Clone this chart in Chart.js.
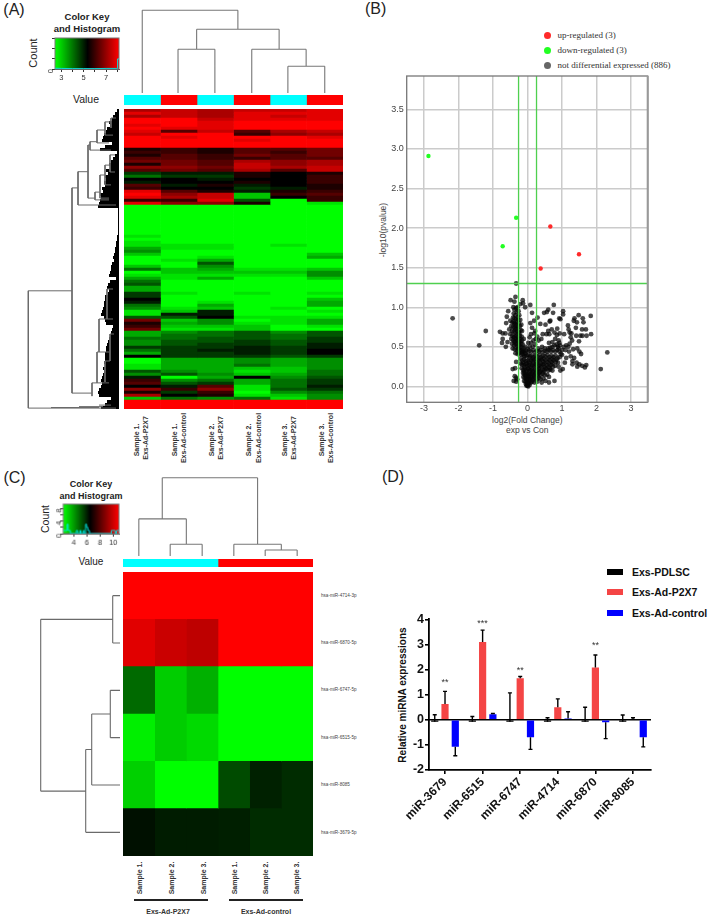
<!DOCTYPE html>
<html><head><meta charset="utf-8">
<script src="https://cdn.jsdelivr.net/npm/chart.js@4/dist/chart.umd.min.js"></script>
<style>
html,body{margin:0;padding:0;background:#fff;}
#page{position:relative;width:709px;height:914px;overflow:hidden;background:#fff;filter:blur(.35px);font-family:"Liberation Sans",Arial,sans-serif;}
#page canvas{position:absolute;display:block;}
#page .t{position:absolute;white-space:nowrap;line-height:1;}
</style></head><body><div id="page"></div>
<script>
/* ---------- Panel A: heat map levels (-9 full green .. 9 full red), one array per sample ---------- */
const heatA_s1=[6,8,6,9,9,8,9,8,7,9, 9,9,9,1,2,1,3,4,1,5, 3,-2,-4,0,-1,3,2,8,9,8, 2,8,-9,-9,-9,-9,-9,-9,-9,-9,
 -9,-9,-8,-9,-8,-8,-6,-5,-7,-9, -9,-9,-7,-4,-9,-8,-6,-4,-3,-6, -6,-2,-2,0,-1,-4,-5,-8,-8,-3,
 4,1,2,4,-6,-6,-4,-5,-5,-2, -4,-6,0,-9,-9,-8,-8,-3,-5,-1, 2,3,0,5,1,6,-7,9,9,9];
const heatA_s2=[7,7,7,9,9,9,8,3,9,8, 9,9,9,2,2,3,3,4,4,5, 4,-1,-2,0,0,-1,0,3,5,6, 2,5,-9,-9,-9,-9,-9,-9,-9,-9,
 -9,-9,-9,-9,-9,-8,-8,-9,-9,-9, -8,-9,-9,-7,-7,-8,-8,-9,-9,-9, -9,-8,-9,-9,-9,-9,-8,-7,-1,-3,
 -7,-6,-7,-8,-5,-4,-4,-3,-3,-2, -2,-2,-2,-6,-6,-6,-6,-5,-3,-9, -5,-3,-1,2,-2,0,-4,9,9,9];
const heatA_s3=[6,6,6,7,8,8,8,7,9,9, 9,9,9,1,1,2,2,3,3,4, 3,-1,-2,-1,0,1,0,1,7,7, 8,5,-9,-9,-9,-9,-9,-9,-9,-9,
 -9,-9,-9,-9,-9,-8,-8,-9,-9,-8, -6,-3,-5,-6,-7,-8,-6,-9,-9,-9, -9,-9,-9,-9,-8,-6,-7,-1,-1,0,
 -5,-5,-7,-8,-4,-4,-3,-3,-2,-2, -1,-2,-2,-6,-6,-6,-6,-6,-5,-6, -4,-2,3,5,2,1,-5,9,9,9];
const heatA_s4=[7,8,8,8,9,9,9,3,2,9, 8,9,9,3,3,4,2,6,7,7, 6,1,1,0,1,-1,-2,-1,-7,-7, -3,1,-9,-9,-9,-9,-9,-9,-9,-9,
 -9,-9,-9,-9,-9,-9,-9,-9,-9,-9, -9,-9,-9,-8,-7,-8,-9,-9,-9,-9, -9,-8,-9,-9,-9,-9,-9,-9,-9,-8,
 -9,-8,-7,-7,-3,-3,-3,-2,-2,-1, -1,-1,-2,-5,-5,-4,-7,-8,-7,0, -6,-6,-8,-8,-9,-8,-4,9,9,9];
const heatA_s5=[7,8,7,8,9,9,9,6,5,9, 9,9,9,3,2,3,3,5,5,6, 3,0,0,0,0,0,-1,1,2,0, -9,-9,-9,-9,-9,-9,-9,-9,-9,-9,
 -9,-9,-9,-9,-9,-8,-9,-9,-9,-9, -9,-9,-9,-8,-7,-8,-9,-9,-9,-9, -9,-9,-9,-9,-9,-9,-8,-9,-9,-8,
 -8,-8,-9,-9,-5,-4,-4,-3,-3,-2, -2,-2,-3,-6,-6,-6,-7,-7,-6,-5, -4,-4,-4,-3,-5,-7,-8,9,9,9];
const heatA_s6=[8,8,8,8,9,9,9,7,6,8, 9,9,9,4,4,4,3,6,6,7, 7,1,2,2,2,1,1,2,3,2, 2,-8,-9,-9,-9,-9,-9,-9,-9,-9,
 -9,-9,-9,-9,-9,-9,-9,-9,-7,-6, -9,-9,-9,-7,-5,-5,-7,-9,-9,-9, -9,-8,-9,-7,-6,-6,-9,-8,-9,-8,
 -6,-6,-8,-9,-3,-3,-2,-2,-1,-1, 0,0,-2,-5,-5,-5,-5,-4,-4,-3, -2,-2,-1,-2,-4,-5,-5,9,9,9];
const sampleColorsA=['#00ffff','#ff0000','#00ffff','#ff0000','#00ffff','#ff0000'];
const sampleNamesA=['Exs-Ad-P2X7','Exs-Ad-control','Exs-Ad-P2X7','Exs-Ad-control','Exs-Ad-P2X7','Exs-Ad-control'];
const sampleNumsA=['Sample 1.','Sample 1.','Sample 2.','Sample 2.','Sample 3.','Sample 3.'];
/* leaf lengths of the row dendrogram, per heat-map row */
const leafA=[2,4,6,7,10,9,12,13,15,16, 17,7,14,19,2,4,6,8,10,9, 13,11,14,13,15,14,17,16,19,18, 19,20,21,1,1,1,1,1,1,1,
 1,1,2,2,3,3,4,4,5,6, 5,7,8,8,9,10,3,9,11,12, 10,11,14,14,15,15,16,17,18,15,
 14,13,6,7,8,9,10,11,12,13, 13,14,14,14,15,14,16,15,16,17, 18,17,18,20,21,20,8,12,14,18];
/* row dendrogram branches: [height1,row1,height2,row2] */
const branchesA=[[90.7,60.6,90.7,99.7],[90.7,60.6,47,60.6],[90.7,99.7,3,99.7],[47,26.3,47,94.7],[47,26.3,41,26.3],[47,94.7,27,94.7],
 [41,20.9,41,32],[41,20.9,31,20.9],[41,32,3,32],[31,12,31,29.7],[31,12,29,12],[29,10.9,29,13.7],[29,10.9,22,10.9],[29,13.7,8,13.7],
 [22,7,22,11.3],[22,7,14,7],[22,11.3,10,11.3],[14,4.3,14,8.7],[14,4.3,8,4.3],[14,8.7,6,8.7],[8,3,8,6.3],[8,3,3,3],
 [31,29.7,24,29.7],[24,27.7,24,30.3],[24,27.7,19,27.7],[24,30.3,10,30.3],[19,22,19,29.7],[19,22,14,22],[19,29.7,10,29.7],
 [14,18.7,14,25.3],[14,18.7,9,18.7],[14,25.3,8,25.3],[9,15.3,9,21],[9,15.3,4,15.3],[9,21,4,21],
 [27,91.3,27,95.7],[27,91.3,22,91.3],[22,81,22,91.3],[22,81,20,81],[20,70,20,81],[20,70,12,70],[12,60,12,70],[12,60,6,60],[12,70,6,70],
 [22,91.3,10,91.3],[14,84,14,91],[14,84,9,84],[20,81,10,81],[9,75,9,84],[9,75,5,75],[68,99.5,20,99.5],[20,98.7,8,98.7],[40,99.2,16,99.2]];
/* column dendrogram: [column1,height1,column2,height2] */
const colBranchesA=[[0.5,0,0.5,82.7],[0.5,82.7,3.12,82.7],[3.12,82.7,3.12,63.7],[1.99,63.7,4.25,63.7],[1.99,63.7,1.99,43.7],[4.25,63.7,4.25,43.7],
 [1.48,43.7,2.49,43.7],[1.48,43.7,1.48,0],[2.49,43.7,2.49,0],[3.5,43.7,4.99,43.7],[3.5,43.7,3.5,0],[4.99,43.7,4.99,26.7],[4.49,26.7,5.5,26.7],[4.49,26.7,4.49,0],[5.5,26.7,5.5,0]];
const keyA_hist=[[2.45,40],[3,30],[4,20],[5,20],[6,20],[7,30],[7.9,30],[8.02,30],[8.02,520],[8.15,520]];

/* ---------- Panel B: volcano ---------- */
const upPoints=[[0.66,2.02],[0.38,1.49],[1.49,1.67]];
const downPoints=[[-2.87,2.91],[-0.33,2.13],[-0.72,1.77]];
const foldThresholds=[-0.26,0.26];
const pThreshold=1.3;
const grayPoints=[[-2.17,.86],[-1.21,.70],[-1.40,.52],[-.33,1.30],[2.31,.43],[2.12,.22],[1.83,.89],[1.84,.66],[1.71,.64],[1.69,.72],[1.58,.72],[1.48,.90],[1.6,.86],[1.36,.86],[1.34,.83],[1.43,.81],[1.62,.81],[1.40,.74],[1.17,.77],[1.19,.72],[1.22,.68],[1.27,.67],[1.25,.62],[1.29,.58],[1.41,.64],[1.53,.64],[1.59,.64],[1.49,.57],[1.06,.66],[.93,.67],[.86,.73],[1.03,.95],[1.03,.91],[.92,.86],[.95,.85],[.64,.82],[.66,.83],[.76,1.03],[.6,.97],[.56,.94],[.48,.93],[.74,.93],[.29,.87],[.19,.83],[.37,.79],[.08,.8],[.08,1.03],[.13,.93],[-.14,1.09],[-.13,1.05],[-.21,1.04],[-.07,1],[-.35,1.13],[-.49,1.09],[-.38,1.07],
[-.41,1],[-.56,.95],[-.38,.97],[-.33,.99],[-.29,1],[-.4,.92],[-.35,.9],[-.31,.94],[-.26,.95],[-.6,.88],[-.42,.87],[-.38,.86],[-.33,.85],[-.28,.88],[-.24,.9],[-.5,.83],[-.44,.81],[-.39,.8],[-.34,.79],[-.3,.82],[-.25,.8],[-.21,.84],[-.62,.8],[-.47,.76],[-.42,.75],[-.37,.74],[-.32,.73],[-.27,.75],[-.22,.76],[-.18,.78],[-.53,.72],[-.45,.7],[-.4,.69],[-.35,.68],[-.3,.7],[-.25,.69],[-.2,.71],[-.16,.7],[-.8,.69],[-.72,.67],[-.64,.67],[-.5,.66],[-.44,.64],[-.38,.63],[-.33,.64],[-.28,.62],[-.22,.64],[-.17,.63],[-.72,.6],[-.47,.6],[-.41,.58],[-.36,.57],[-.31,.58],[-.26,.56],[-.21,.57],[-.16,.58],[-.11,.6],[-.74,.55],[-.58,.56],[-.45,.54],[-.39,.52],[-.34,.53],[-.29,.51],[-.24,.52],[-.19,.5],[-.14,.53],[-.63,.5],[-.43,.48],[-.37,.47],[-.31,.46],[-.26,.47],[-.21,.45],[-.16,.46],[-.11,.48],[-.07,.5],[-.35,.42],[-.29,.41],[-.24,.42],[-.19,.4],[-.14,.41],[-.09,.43],[-.04,.45],[.01,.47],
[-.36,.78],[-.31,.77],[-.27,.84],[-.41,.82],[-.35,.72],[-.29,.66],[-.24,.67],[-.4,.62],[-.34,.6],[-.27,.6],[-.22,.6],[-.38,.56],[-.32,.54],[-.25,.55],[-.18,.54],[-.28,.48],[-.22,.49],[-.16,.43],[-.1,.38],[-.12,.45],[-.06,.42],
[.22,.7],[.13,.74],[.2,.67],[.1,.66],[.28,.63],[.06,.62],[.24,.6],[.17,.58],[.32,.58],[.1,.55],[.22,.53],[.02,.55],[.15,.5],[.3,.48],[.06,.5],[.42,.5],[.5,.48],[.55,.66],[.6,.7],[.63,.66],[.7,.72],[.78,.68],[.8,.6],[.72,.56],[.85,.65],[.9,.58],[.92,.55],[.94,.52],[.88,.5],[.62,.55],[.44,.66],[.52,.78],[.4,.6],
[1.05,.5],[1.12,.52],[1.18,.5],[1.22,.54],[1.0,.46],[1.1,.46],[1.2,.44],[1.32,.47],[1.44,.48],[1.5,.44],[1.55,.41],[1.0,.4],[1.12,.36],[1.25,.38],[1.3,.32],[1.35,.36],[1.42,.3],[1.5,.28],[1.58,.26],[1.66,.24],[1.7,.27],[1.44,.25],[1.3,.28],[1.02,.22],[1.08,.3],[.95,.2],
[.05,.45],[.1,.44],[.16,.46],[.21,.43],[.27,.45],[.33,.44],[.38,.46],[.44,.43],[.5,.45],[.56,.44],[.62,.46],[.68,.44],[.74,.46],[.8,.44],[.86,.46],[.92,.44],[.96,.41],[.72,.5],[.78,.52],[.84,.53],[.9,.48],[.66,.49],[.6,.48],
[-.08,.38],[-.03,.39],[.02,.4],[.07,.38],[.12,.39],[.17,.37],[.23,.39],[.28,.38],[.34,.4],[.39,.37],[.45,.39],[.51,.38],[.57,.4],[.63,.37],[.69,.39],[.75,.37],[.81,.39],[.87,.36],[.93,.37],[.05,.36],[.15,.35],[.26,.35],[.37,.35],[.48,.35],[.6,.35],[.72,.35],[.84,.34],
[-.33,.31],[-.2,.35],[-.15,.33],[-.1,.34],[-.05,.32],[0,.33],[.05,.31],[.1,.33],[.15,.32],[.2,.34],[.25,.31],[.3,.33],[.35,.32],[.41,.34],[.46,.31],[.52,.33],[.58,.31],[.64,.33],[.7,.31],[.76,.33],[.82,.31],[.88,.3],[-.13,.3],[-.03,.29],[.07,.29],[.17,.29],[.27,.29],[.38,.29],[.49,.29],[.61,.29],[.72,.29],
[-.2,.29],[-.16,.28],[-.11,.27],[-.06,.28],[-.01,.26],[.04,.27],[.09,.25],[.14,.27],[.19,.26],[.24,.28],[.29,.25],[.34,.27],[.39,.26],[.45,.28],[.5,.25],[.56,.27],[.62,.25],[.68,.27],[.74,.25],[.8,.26],[-.09,.24],[.01,.23],[.11,.23],[.21,.24],[.31,.23],[.41,.24],[.52,.23],[.64,.23],
[-.43,.22],[-.36,.23],[-.17,.23],[-.12,.21],[-.07,.22],[-.03,.2],[.02,.22],[.07,.2],[.12,.21],[.17,.19],[.22,.21],[.27,.2],[.32,.22],[.37,.19],[.43,.21],[.48,.2],[.54,.22],[.6,.2],[.66,.21],[.72,.2],[.9,.25],[-.1,.19],[.05,.18],[.15,.18],[.25,.18],[.35,.18],[.46,.18],
[-.13,.17],[-.09,.16],[-.05,.17],[-.01,.15],[.03,.16],[.08,.15],[.13,.16],[.18,.14],[.23,.16],[.28,.15],[.33,.17],[.38,.14],[.44,.16],[.5,.14],[.57,.15],[.62,.12],[-.07,.14],[.01,.13],[.1,.13],[.2,.13],[.3,.13],
[-.37,.13],[-.33,.11],[-.4,.07],[-.3,.09],[-.33,.06],[-.12,.12],[-.08,.11],[-.04,.12],[0,.1],[.04,.12],[.08,.1],[.12,.11],[.17,.09],[.22,.11],[.27,.09],[.33,.11],[.38,.09],[.46,.1],[.52,.07],[.62,.05],[.78,.07],
[-.1,.07],[-.06,.06],[-.02,.07],[.02,.05],[.06,.07],[.1,.05],[.14,.06],[.2,.05],[.28,.06],[.41,.05],[-.05,.03],[-.01,.02],[.03,.03],[0,.01],[.06,.02],[-.03,.01],[.02,.0],[.0,.05],[.05,.09],[-.03,.09],[.14,.08]];

/* ---------- Panel C ---------- */
const heatC_s1=[10.8,10.3,4.8,2.65,3.15,6.25];
const heatC_s2=[10.8,9.9,3.2,3.2,2.4,6.05];
const heatC_s3=[10.8,9.7,3.67,3.0,2.4,6.05];
const heatC_s4=[10.8,10.8,2.4,2.4,5.3,6.0];
const heatC_s5=[10.8,10.8,2.4,2.4,5.97,5.8];
const heatC_s6=[10.8,10.8,2.4,2.4,5.8,5.8];
const rowNamesC=['hsa-miR-4714-3p','hsa-miR-6870-5p','hsa-miR-6747-5p','hsa-miR-6515-5p','hsa-miR-8085','hsa-miR-3679-5p'];
const sampleColorsC=['#00ffff','#00ffff','#00ffff','#ff0000','#ff0000','#ff0000'];
const sampleNumsC=['Sample 1.','Sample 2.','Sample 3.','Sample 1.','Sample 2.','Sample 3.'];
const branchesC=[[79.3,1,79.3,4.63],[79.3,1,7.3,1],[7.3,.5,7.3,1.5],[7.3,.5,0,.5],[7.3,1.5,0,1.5],[79.3,4.63,34.3,4.63],[34.3,3.75,34.3,5.5],[34.3,5.5,0,5.5],[34.3,3.75,28.3,3.75],[28.3,3,28.3,4.5],[28.3,4.5,0,4.5],[28.3,3,9.7,3],[9.7,2.5,9.7,3.5],[9.7,2.5,0,2.5],[9.7,3.5,0,3.5]];
const colBranchesC=[[1.24,78,4.25,78],[1.24,78,1.24,37],[4.25,78,4.25,11.7],[.5,37,2,37],[.5,37,.5,0],[2,37,2,11.7],[1.49,11.7,2.5,11.7],[1.49,11.7,1.49,0],[2.5,11.7,2.5,0],[3.5,11.7,5,11.7],[3.5,11.7,3.5,0],[5,11.7,5,6],[4.49,6,5.5,6],[4.49,6,4.49,0],[5.5,6,5.5,0]];
const keyC_hist=[[2.45,1],[2.8,1],[3,3],[3.15,1],[3.5,0],[4.4,1],[4.6,0],[4.95,1],[5.1,0],[5.45,1],[5.6,0],[5.8,3],[5.95,2],[6.15,1],[6.4,0],[9.7,1],[10.1,1],[10.3,0],[10.5,1],[10.85,1]];

/* ---------- Panel D ---------- */
const miRNAs=['miR-3679','miR-6515','miR-6747','miR-4714','miR-6870','miR-8085'];
const pdlscMeans=[-0.08,-0.08,-0.08,-0.08,-0.08,-0.08];
const pdlscTops=[0.2,0.13,1.07,0.08,0.5,0.19];
const p2x7Means=[0.63,3.1,1.65,0.5,2.08,0.0];
const p2x7Tops=[1.13,3.57,1.72,0.83,2.58,0.08];
const controlMeans=[-1.07,0.22,-0.7,0.05,-0.1,-0.7];
const controlEnds=[-1.43,0.25,-1.18,0.32,-0.75,-1.08];
const starMarks=[[1,1.48,'**'],[2,3.85,'***'],[3,1.98,'**'],[5,2.94,'**']];

/* ---------- helpers ---------- */
const page=document.getElementById('page');
const FONT='"Liberation Sans",Arial,sans-serif';
Chart.defaults.font.family=FONT;
Chart.defaults.animation=false;
Chart.defaults.devicePixelRatio=1;
Chart.defaults.plugins.legend.display=false;
Chart.defaults.plugins.tooltip.enabled=false;
function fixH(h){return s=>{s.height=h;s.paddingLeft=s.paddingRight=s.paddingTop=s.paddingBottom=0;};}
function fixW(w){return s=>{s.width=w;s.paddingLeft=s.paddingRight=s.paddingTop=s.paddingBottom=0;};}
function mk(left,top,w,h){const c=document.createElement('canvas');c.width=w;c.height=h;c.style.left=left+'px';c.style.top=top+'px';c.style.width=w+'px';c.style.height=h+'px';page.appendChild(c);return c;}
function txt(s,x,y,o={}){const d=document.createElement('div');d.className='t';d.textContent=s;
 d.style.left=x+'px';d.style.top=y+'px';d.style.fontSize=(o.size||10)+'px';d.style.fontWeight=o.weight||'normal';d.style.color=o.color||'#222';
 if(o.font)d.style.fontFamily=o.font;
 const tx=o.align==='left'?'0':'-50%';
 d.style.transform=`translate(${tx},-50%)`+(o.rot?` rotate(${o.rot}deg)`:'');page.appendChild(d);}
const levelColor=z=>z>=0?`rgb(${Math.round(z/9*255)},0,0)`:`rgb(0,${Math.round(-z/9*255)},0)`;
function rampColor(lo,mid,hi){return v=>v>=mid?`rgb(${Math.round(Math.min(1,(v-mid)/(hi-mid))*255)},0,0)`:`rgb(0,${Math.round(Math.min(1,(mid-v)/(mid-lo))*255)},0)`;}
function heat(left,top,w,h,cols,color){
 new Chart(mk(left,top,w,h),{type:'bar',data:{labels:cols[0].map((_,i)=>i),
  datasets:cols.map(c=>({data:c.map(()=>1),backgroundColor:c.map(color),borderWidth:0,barPercentage:1,categoryPercentage:1}))},
  options:{responsive:false,indexAxis:'y',layout:{padding:0},scales:{x:{stacked:true,display:false,min:0,max:cols.length},y:{stacked:true,display:false,reverse:false}}}});
}
function segPoints(segs){const p=[];segs.forEach(s=>{p.push({x:s[0],y:s[1]},{x:s[2],y:s[3]},{x:null,y:null});});return p;}
function lineSet(segs,color,width){return {type:'scatter',showLine:true,data:segPoints(segs),borderColor:color,borderWidth:width,pointRadius:0,tension:0,spanGaps:false};}
function dendro(left,top,w,h,datasets,xs,ys){
 new Chart(mk(left,top,w,h),{type:'scatter',data:{datasets},options:{responsive:false,layout:{padding:0},
  scales:{x:Object.assign({type:'linear',display:false},xs),y:Object.assign({type:'linear',display:false},ys)}}});
}
function colorKey(o){
 const gradient={id:'grad',beforeDatasetsDraw(ch){const a=ch.chartArea,c=ch.ctx,xs=ch.scales.x;
   const g=c.createLinearGradient(a.left,0,a.right,0);const f=v=>(xs.getPixelForValue(v)-a.left)/(a.right-a.left);
   g.addColorStop(f(o.lo),'#00ff00');g.addColorStop(f(o.mid),'#000');g.addColorStop(f(o.hi),'#ff0000');
   c.fillStyle=g;c.fillRect(a.left,a.top,a.right-a.left,a.bottom-a.top);c.strokeStyle='#777';c.lineWidth=1;c.strokeRect(a.left,a.top,a.right-a.left,a.bottom-a.top);}};
 const pad=5,yw=20,xh=20;
 new Chart(mk(o.left-yw,o.top-pad,o.w+yw+pad,o.h+pad+xh),{type:'scatter',plugins:[gradient],
  data:{datasets:[{showLine:true,data:o.hist.map(p=>({x:p[0],y:p[1]})),borderColor:'#00e8e8',borderWidth:.9,pointRadius:0,stepped:o.stepped||false,tension:0}]},
  options:{responsive:false,layout:{padding:{top:pad,right:pad}},scales:{
   x:{type:'linear',min:o.lo,max:o.hi,afterFit:fixH(xh),grid:{drawOnChartArea:false,color:'#333',tickLength:3},border:{color:'#555'},
      ticks:{autoSkip:false,includeBounds:false,stepSize:o.xstep,color:'#333',font:{size:o.font},padding:1,maxRotation:0,minRotation:0,callback:v=>o.xticks.includes(v)?String(v):''}},
   y:{type:'linear',min:0,max:o.ymax,afterFit:fixW(yw),grid:{drawOnChartArea:false,color:'#333',tickLength:3},border:{color:'#555'},
      ticks:{autoSkip:false,includeBounds:false,stepSize:o.ystep,color:'#333',font:{size:o.font},padding:1,minRotation:90,maxRotation:90,callback:v=>o.yticks.includes(v)?String(v):''}}}}});
}

/* ---------- Panel A ---------- */
txt('(A)',14,10,{size:16,color:'#222'});
txt('Color Key',87,17,{size:9.5,weight:'bold'});
txt('and Histogram',87,29,{size:9.5,weight:'bold'});
txt('Count',33,53,{size:11,rot:-90});
txt('Value',86,99,{size:10.5});
colorKey({left:54.7,top:38,w:64.3,h:31,lo:2.44,mid:5.35,hi:8.15,ymax:1600,ystep:500,yticks:[0,1500],xstep:1,xticks:[3,5,7],font:7.5,hist:keyA_hist});
dendro(124,5,219,88,[lineSet(colBranchesA,'#777',1.1)],{min:0,max:6},{min:0,max:88});
heat(124,95,219,10,[0,1,2,3,4,5].map(i=>[i]),i=>sampleColorsA[i]);
heat(124,109,219,300,[heatA_s1,heatA_s2,heatA_s3,heatA_s4,heatA_s5,heatA_s6],levelColor);
dendro(0,109,124,300,[lineSet(branchesA,'#6a6a6a',1),lineSet(leafA.map((l,r)=>[0,r+.5,l,r+.5]),'#000',3)],{min:-5,max:119,reverse:true},{min:0,max:100,reverse:true});
const labelXA=[[136,145],[174,183],[211,220],[248,257.5],[284,292.7],[320.7,330]];
labelXA.forEach((p,i)=>{txt(sampleNumsA[i],p[0],440,{size:7,weight:'bold',rot:-90,color:'#333'});txt(sampleNamesA[i],p[1],438,{size:7,weight:'bold',rot:-90,color:'#333'});});

/* ---------- Panel B ---------- */
txt('(B)',375.7,9,{size:16,color:'#222'});
const legB=[['up-regulated (3)','#ff2a2a',35],['down-regulated (3)','#22ff22',50],['not differential expressed (886)','#666',65]];
const SERIF='"Liberation Serif","Times New Roman",serif';
legB.forEach(l=>{const d=document.createElement('div');d.style.cssText=`position:absolute;left:${543.5}px;top:${l[2]-3.5}px;width:7px;height:7px;border-radius:50%;background:${l[1]}`;page.appendChild(d);txt(l[0],557.5,l[2],{size:9,align:'left',font:SERIF,color:'#333'});});
txt('log2(Fold Change)',527.3,420,{size:8.5,color:'#444'});
txt('exp vs Con',527.3,430,{size:8.5,color:'#444'});
txt('-log10(pvalue)',383,230,{size:8.5,rot:-90,color:'#444'});
const frame={id:'frame',afterDraw(ch){const a=ch.chartArea,c=ch.ctx;c.save();c.strokeStyle='#777';c.lineWidth=1.3;c.strokeRect(a.left,a.top,a.right-a.left,a.bottom-a.top);c.strokeStyle='#999';c.lineWidth=2;c.beginPath();c.moveTo(a.right,a.top);c.lineTo(a.right,a.bottom);c.stroke();c.restore();}};
const toPts=a=>a.map(p=>({x:p[0],y:p[1]}));
const greenLine='#4fd04f';
new Chart(mk(370,70,290,345),{type:'scatter',plugins:[frame],data:{datasets:[
 {showLine:true,data:[{x:foldThresholds[0],y:-0.2},{x:foldThresholds[0],y:3.92}],borderColor:greenLine,borderWidth:1.3,pointRadius:0},
 {showLine:true,data:[{x:foldThresholds[1],y:-0.2},{x:foldThresholds[1],y:3.92}],borderColor:greenLine,borderWidth:1.3,pointRadius:0},
 {showLine:true,data:[{x:-3.5,y:pThreshold},{x:3.48,y:pThreshold}],borderColor:greenLine,borderWidth:1.3,pointRadius:0},
 {data:toPts(upPoints),backgroundColor:'#ff2a2a',pointRadius:2.2,pointBorderWidth:0},
 {data:toPts(downPoints),backgroundColor:'#22ff22',pointRadius:2.2,pointBorderWidth:0},
 {data:toPts(grayPoints),backgroundColor:'rgba(5,5,5,.72)',pointRadius:2.4,pointBorderWidth:0}
]},options:{responsive:false,layout:{padding:{top:6,right:12.3}},scales:{
 x:{type:'linear',min:-3.5,max:3.48,afterFit:fixH(12.7),grid:{color:'#cbcbcb',lineWidth:1.5,drawTicks:false},border:{display:false},
    ticks:{stepSize:1,includeBounds:false,autoSkip:false,padding:1,color:'#444',font:{size:9},maxRotation:0,callback:v=>v<0?'-'+(-v):String(v)}},
 y:{type:'linear',min:-0.2,max:3.92,afterFit:fixW(36.7),grid:{color:'#cbcbcb',lineWidth:1.5,drawTicks:false},border:{display:false},
    ticks:{stepSize:.5,includeBounds:false,autoSkip:false,padding:3,color:'#444',font:{size:9},callback:v=>v.toFixed(1)}}}}});

/* ---------- Panel C ---------- */
txt('(C)',14.5,478,{size:16,color:'#222'});
txt('Color Key',91,484,{size:9,weight:'bold'});
txt('and Histogram',91,496,{size:9,weight:'bold'});
txt('Count',45,519,{size:10.5,rot:-90});
txt('Value',91,562,{size:10});
colorKey({left:63.3,top:504.3,w:55.4,h:29.4,lo:2.41,mid:6.5,hi:10.87,ymax:9.4,ystep:2,yticks:[0,4,8],xstep:2,xticks:[4,6,8,10],font:7.5,hist:keyC_hist,stepped:true});
dendro(123,472,190.3,84,[lineSet(colBranchesC,'#777',1.1)],{min:0,max:6},{min:0,max:83.7});
heat(123,559,190.3,8.3,[0,1,2,3,4,5].map(i=>[i]),i=>sampleColorsC[i]);
heat(123,571.7,190.3,284.3,[heatC_s1,heatC_s2,heatC_s3,heatC_s4,heatC_s5,heatC_s6],rampColor(2.4,6.5,10.8));
dendro(30,571.7,93.3,284.3,[lineSet(branchesC,'#6a6a6a',1.1)],{min:-3,max:90,reverse:true},{min:0,max:6,reverse:true});
rowNamesC.forEach((n,i)=>txt(n,321,595.5+47.4*i,{size:4.6,align:'left',color:'#444'}));
[139,171,203,234,265,295.5].forEach((x,i)=>txt(sampleNumsC[i],x,878,{size:7,weight:'bold',rot:-90,color:'#333'}));
txt('Exs-Ad-P2X7',168,911,{size:7,weight:'bold',color:'#333'});
txt('Exs-Ad-control',266,911,{size:7,weight:'bold',color:'#333'});
[[134,208,2],[228.7,302.7,1.5]].forEach(l=>{const d=document.createElement('div');d.style.cssText=`position:absolute;left:${l[0]}px;top:899px;width:${l[1]-l[0]}px;height:${l[2]}px;background:#222`;page.appendChild(d);});

/* ---------- Panel D ---------- */
txt('(D)',393,477,{size:16,color:'#222'});
[['Exs-PDLSC','#000',572],['Exs-Ad-P2X7','#f44545',592.3],['Exs-Ad-control','#0000ff',612.7]].forEach(l=>{
 const d=document.createElement('div');d.style.cssText=`position:absolute;left:607px;top:${l[2]-3}px;width:16px;height:6px;background:${l[1]}`;page.appendChild(d);
 txt(l[0],632,l[2],{size:10.5,weight:'bold',align:'left',color:'#111'});});
txt('Relative miRNA expressions',403,695,{size:10,weight:'bold',rot:-90,color:'#111'});
const xy=a=>a.map((v,i)=>({x:i+1,y:v}));
const errTops=[pdlscTops,p2x7Tops,controlEnds];
const errPlugin={id:'err',afterDatasetsDraw(ch){const c=ch.ctx,ys=ch.scales.y,xs=ch.scales.x;c.save();c.strokeStyle='#000';c.lineWidth=1.4;
  [0,1,2].forEach(d=>{ch.getDatasetMeta(d).data.forEach((b,i)=>{const y=ys.getPixelForValue(errTops[d][i]);c.beginPath();c.moveTo(b.x,ys.getPixelForValue(ch.data.datasets[d].data[i].y));c.lineTo(b.x,y);c.moveTo(b.x-2,y);c.lineTo(b.x+2,y);c.stroke();});});
  c.fillStyle='#333';c.font='9px '+FONT;c.textAlign='center';c.textBaseline='middle';
  starMarks.forEach(s=>c.fillText(s[2],xs.getPixelForValue(s[0]),ys.getPixelForValue(s[1])));c.restore();}};
new Chart(mk(395,612,262,220),{type:'bar',plugins:[errPlugin],data:{datasets:[
 {data:xy(pdlscMeans),backgroundColor:'#000',categoryPercentage:.82,barPercentage:.7},
 {data:xy(p2x7Means),backgroundColor:'#f44545',categoryPercentage:.82,barPercentage:.7},
 {data:xy(controlMeans),backgroundColor:'#0000ff',categoryPercentage:.82,barPercentage:.7},
 {type:'line',data:[{x:0.574,y:0},{x:6.479,y:0}],borderColor:'#000',borderWidth:1.6,pointRadius:0}
]},options:{responsive:false,layout:{padding:{top:7.3,right:6}},scales:{
 x:{type:'linear',offset:false,min:.574,max:6.479,afterFit:fixH(62),grid:{offset:false,drawOnChartArea:false,color:'#000',lineWidth:1.6,tickLength:4},border:{color:'#000',width:1.8},
    ticks:{stepSize:1,includeBounds:false,autoSkip:false,minRotation:45,maxRotation:45,padding:1,color:'#111',font:{size:12,weight:'bold'},callback:v=>miRNAs[v-1]}},
 y:{type:'linear',min:-2,max:4,afterFit:fixW(34),grid:{drawOnChartArea:false,color:'#000',lineWidth:1.6,tickLength:4},border:{color:'#000',width:1.8},
    ticks:{stepSize:1,includeBounds:false,autoSkip:false,padding:1,color:'#111',font:{size:12.5,weight:'bold'}}}}}});
</script></body></html>
